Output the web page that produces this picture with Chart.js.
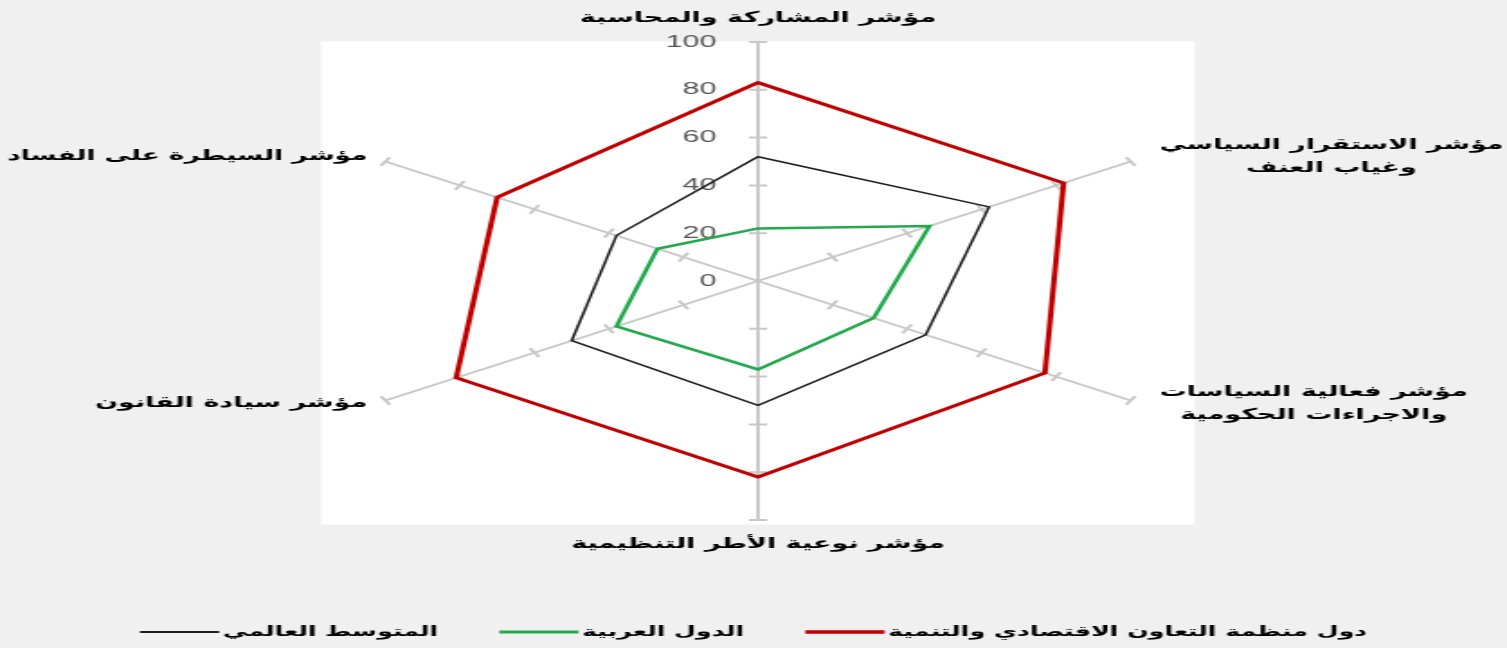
<!DOCTYPE html>
<html lang="ar">
<head>
<meta charset="utf-8">
<script src="https://cdn.jsdelivr.net/npm/chart.js@4.4.1/dist/chart.umd.min.js"></script>
<style>
  html, body { margin: 0; padding: 0; background: #f0f0f0; overflow: hidden; }
  /* the reference is a horizontally stretched picture, so draw narrow and stretch */
  #wrap { width: 837px; height: 648px; transform: scaleX(1.8005); transform-origin: 0 0; }
</style>
</head>
<body>
<div id="wrap"><canvas id="radar"></canvas></div>
<script>
// Data
const categories = [
    ['مؤشر المشاركة والمحاسبة'],
    ['مؤشر الاستقرار السياسي', 'وغياب العنف'],
    ['مؤشر فعالية السياسات', 'والاجراءات الحكومية'],
    ['مؤشر نوعية الأطر التنظيمية'],
    ['مؤشر سيادة القانون'],
    ['مؤشر السيطرة على الفساد']
];
const seriesNames = ['المتوسط العالمي', 'الدول العربية', 'دول منظمة التعاون الاقتصادي والتنمية'];
const worldAvg = [52, 62, 45, 52, 50, 38];
const arabStates = [22, 46, 31, 37, 38, 27];
const oecd = [83, 82, 77, 82, 81, 70];
const tickValues = [0, 20, 40, 60, 80, 100];

const labelFont = 'bold 15px "DejaVu Sans"';
const legendFont = 'bold 14px "DejaVu Sans"';
const tickFont = '17px "Liberation Sans"';

// Plot background, tick marks, tick labels, category labels and legend
const decor = {
    id: 'decor',
    beforeDraw(chart) {
        const { ctx } = chart;
        const s = chart.scales.r;
        const r = s.drawingArea;
        ctx.save();
        ctx.fillStyle = '#f0f0f0';
        ctx.fillRect(0, 0, chart.width, chart.height);
        ctx.fillStyle = '#ffffff';
        ctx.fillRect(s.xCenter - r - 3.5, s.yCenter - r - 0.5, 2 * r + 7, 2 * r + 5);
        ctx.restore();
    },
    beforeDatasetsDraw(chart) {
        const { ctx } = chart;
        const s = chart.scales.r;
        ctx.save();
        // small cross ticks on every axis
        ctx.strokeStyle = '#c8c8c8';
        ctx.lineWidth = 2;
        ctx.beginPath();
        categories.forEach((c, i) => {
            const a = s.getIndexAngle(i) - Math.PI / 2;
            const nx = -Math.sin(a), ny = Math.cos(a);
            tickValues.forEach(v => {
                if (v === 0) return;
                const p = s.getPointPositionForValue(i, v);
                ctx.moveTo(p.x - nx * 5, p.y - ny * 5);
                ctx.lineTo(p.x + nx * 5, p.y + ny * 5);
            });
        });
        ctx.stroke();

        // tick labels left of the top axis
        ctx.fillStyle = '#555555';
        ctx.font = tickFont;
        ctx.textAlign = 'right';
        ctx.textBaseline = 'middle';
        tickValues.forEach(v => {
            const p = s.getPointPositionForValue(0, v);
            ctx.fillText(String(v), s.xCenter - 23, p.y);
        });
        ctx.restore();
    },
    afterDraw(chart) {
        const { ctx } = chart;
        const s = chart.scales.r;
        ctx.save();
        ctx.fillStyle = '#000000';
        ctx.font = labelFont;
        ctx.textAlign = 'center';
        ctx.textBaseline = 'middle';
        const lineH = 23;
        categories.forEach((lines, i) => {
            const end = s.getPointPositionForValue(i, 100);
            let w = Math.max(...lines.map(t => ctx.measureText(t).width));
            const side = end.y < s.yCenter ? -5 : 3;
            let x = end.x, y = end.y;
            if (end.x > s.xCenter + 1) {
                w = Math.min(w, chart.width - end.x - 16 - 2);
                x = end.x + 16 + w / 2; y = end.y + side;
            } else if (end.x < s.xCenter - 1) {
                w = Math.min(w, end.x - 10 - 4);
                x = end.x - 10 - w / 2; y = end.y + side;
            } else if (end.y < s.yCenter) { y = end.y - 24; }
            else { y = end.y + 24; }
            const y0 = y - (lines.length - 1) * lineH / 2;
            lines.forEach((t, k) => ctx.fillText(t, x, y0 + k * lineH, w));
        });

        // legend
        const sets = chart.data.datasets;
        const lineW = 44, gap = 2, itemGap = 34, ly = 632;
        ctx.font = legendFont;
        ctx.textAlign = 'left';
        const widths = sets.map(d => ctx.measureText(d.label).width);
        const total = widths.reduce((a, b) => a + b, 0) + sets.length * (lineW + gap) + (sets.length - 1) * itemGap;
        let x = chart.width / 2 - total / 2;
        sets.forEach((d, i) => {
            ctx.strokeStyle = d.borderColor;
            ctx.lineWidth = d.borderWidth + 0.5;
            ctx.beginPath();
            ctx.moveTo(x, ly);
            ctx.lineTo(x + lineW, ly);
            ctx.stroke();
            x += lineW + gap;
            ctx.fillText(d.label, x, ly);
            x += widths[i] + itemGap;
        });
        ctx.restore();
    }
};

const ctx = document.getElementById('radar').getContext('2d');
new Chart(ctx, {
    type: 'radar',
    data: {
        labels: categories,
        datasets: [
            { label: seriesNames[0], data: worldAvg, borderColor: '#1a1a1a', borderWidth: 1.5 },
            { label: seriesNames[1], data: arabStates, borderColor: '#22a94b', borderWidth: 2.5 },
            { label: seriesNames[2], data: oecd, borderColor: '#c00000', borderWidth: 3 }
        ].map(d => Object.assign(d, {
            fill: false,
            backgroundColor: 'transparent',
            pointRadius: 0,
            pointHoverRadius: 0,
            borderJoinStyle: 'miter'
        }))
    },
    options: {
        responsive: true,
        maintainAspectRatio: false,
        animation: false,
        layout: { padding: { top: 42, bottom: 128, left: 6, right: 0 } },
        plugins: {
            legend: { display: false },
            tooltip: { enabled: false }
        },
        scales: {
            r: {
                min: 0,
                max: 100,
                ticks: { display: false, stepSize: 20 },
                grid: { display: false },
                angleLines: { display: true, color: '#c8c8c8', lineWidth: 2 },
                pointLabels: { display: false }
            }
        }
    },
    plugins: [decor]
});
</script>
</body>
</html>
